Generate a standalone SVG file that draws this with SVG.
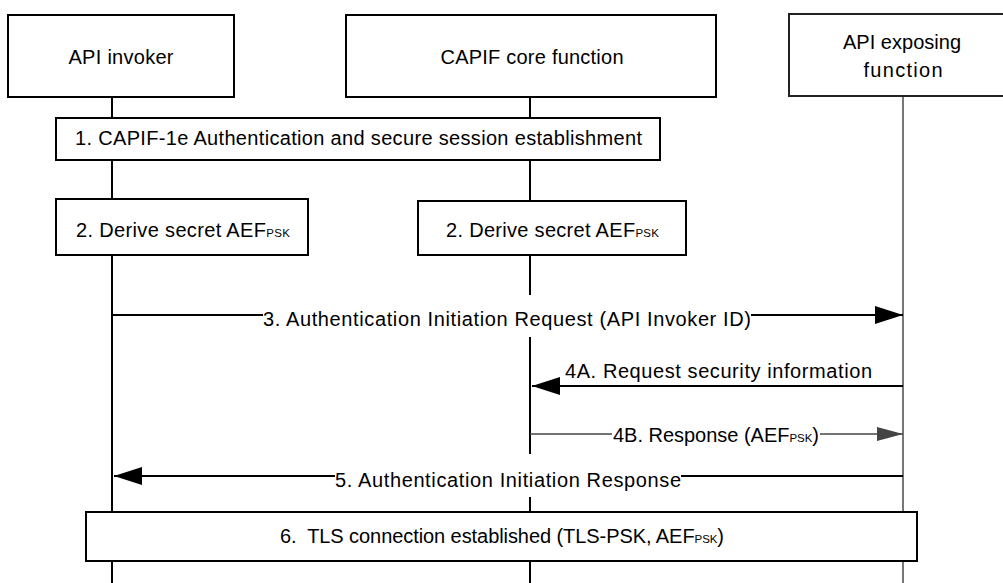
<svg xmlns="http://www.w3.org/2000/svg" width="1003" height="583" viewBox="0 0 1003 583">
  <style>
    text { font-family: "Liberation Sans", Arial, sans-serif; font-size: 20px; fill: #000; text-anchor: middle; }
    .sub { font-size: 11.5px; }
    .box { fill: #fff; stroke: #000; stroke-width: 2; }
    .life { stroke: #000; stroke-width: 2; fill: none; }
    .life-g { stroke: #555; stroke-width: 1.6; fill: none; }
    .msg { stroke: #000; stroke-width: 2; fill: none; }
    .msg-g { stroke: #444; stroke-width: 1.6; fill: none; }
    .bg { fill: #fff; stroke: none; }
  </style>
  <defs>
    <marker id="ah" markerUnits="userSpaceOnUse" markerWidth="28" markerHeight="18" refX="28" refY="9" orient="auto">
      <path d="M0,0 L28,9 L0,18 z" fill="#000"/>
    </marker>
    <marker id="ah-g" markerUnits="userSpaceOnUse" markerWidth="26" markerHeight="14" refX="26" refY="7" orient="auto">
      <path d="M0,0 L26,7 L0,14 z" fill="#444"/>
    </marker>
  </defs>
  <rect width="1003" height="583" fill="#fff"/>

  <g id="lifelines">
    <line class="life" x1="112" y1="97" x2="112" y2="583"/>
    <line class="life" x1="530" y1="97" x2="530" y2="583"/>
    <line class="life-g" x1="903" y1="96" x2="903" y2="583"/>
  </g>

  <g id="api-invoker">
    <rect class="box" x="8" y="15" width="226" height="82"/>
    <text x="121" y="64" textLength="105" lengthAdjust="spacing">API invoker</text>
  </g>
  <g id="capif-core-function">
    <rect class="box" x="346" y="15" width="370" height="82"/>
    <text x="532" y="64" textLength="183" lengthAdjust="spacing">CAPIF core function</text>
  </g>
  <g id="api-exposing-function">
    <rect class="box" x="789" y="14" width="260" height="82" style="stroke:#222"/>
    <text x="902" y="49" textLength="118" lengthAdjust="spacing">API exposing</text>
    <text x="903" y="77" textLength="79" lengthAdjust="spacing">function</text>
  </g>

  <g id="step1">
    <rect class="box" x="56" y="118" width="604" height="42"/>
    <text x="358.5" y="145" textLength="567" lengthAdjust="spacing">1. CAPIF-1e Authentication and secure session establishment</text>
  </g>
  <g id="step2-invoker">
    <rect class="box" x="56" y="199" width="252" height="56"/>
    <text x="183" y="237" textLength="214" lengthAdjust="spacing">2. Derive secret AEF<tspan class="sub">PSK</tspan></text>
  </g>
  <g id="step2-capif">
    <rect class="box" x="418" y="201" width="268" height="54"/>
    <text x="552.5" y="237" textLength="213" lengthAdjust="spacing">2. Derive secret AEF<tspan class="sub">PSK</tspan></text>
  </g>
  <g id="step6">
    <rect class="box" x="86" y="512" width="831" height="49"/>
    <text x="502" y="543" textLength="444" lengthAdjust="spacing" xml:space="preserve">6.  TLS connection established (TLS-PSK, AEF<tspan class="sub">PSK</tspan>)</text>
  </g>

  <g id="connectors">
    <g id="msg3">
      <line class="msg" x1="112" y1="315" x2="903" y2="315" marker-end="url(#ah)"/>
      <rect class="bg" x="263" y="295" width="488" height="42"/>
      <text x="507" y="326" textLength="488" lengthAdjust="spacing">3. Authentication Initiation Request (API Invoker ID)</text>
    </g>
    <g id="msg4a">
      <line class="msg" x1="903" y1="386" x2="532" y2="386" marker-end="url(#ah)"/>
      <text x="718.5" y="378" textLength="307" lengthAdjust="spacing">4A. Request security information</text>
    </g>
    <g id="msg4b">
      <line class="msg-g" x1="530" y1="434" x2="903" y2="434" marker-end="url(#ah-g)"/>
      <rect class="bg" x="612" y="422" width="208" height="24"/>
      <text x="716" y="442" textLength="206" lengthAdjust="spacing">4B. Response (AEF<tspan class="sub">PSK</tspan>)</text>
    </g>
    <g id="msg5">
      <line class="msg" x1="903" y1="476" x2="114" y2="476" marker-end="url(#ah)"/>
      <rect class="bg" x="335" y="454" width="346" height="43"/>
      <text x="508" y="487" textLength="346" lengthAdjust="spacing">5. Authentication Initiation Response</text>
    </g>
  </g>
</svg>
